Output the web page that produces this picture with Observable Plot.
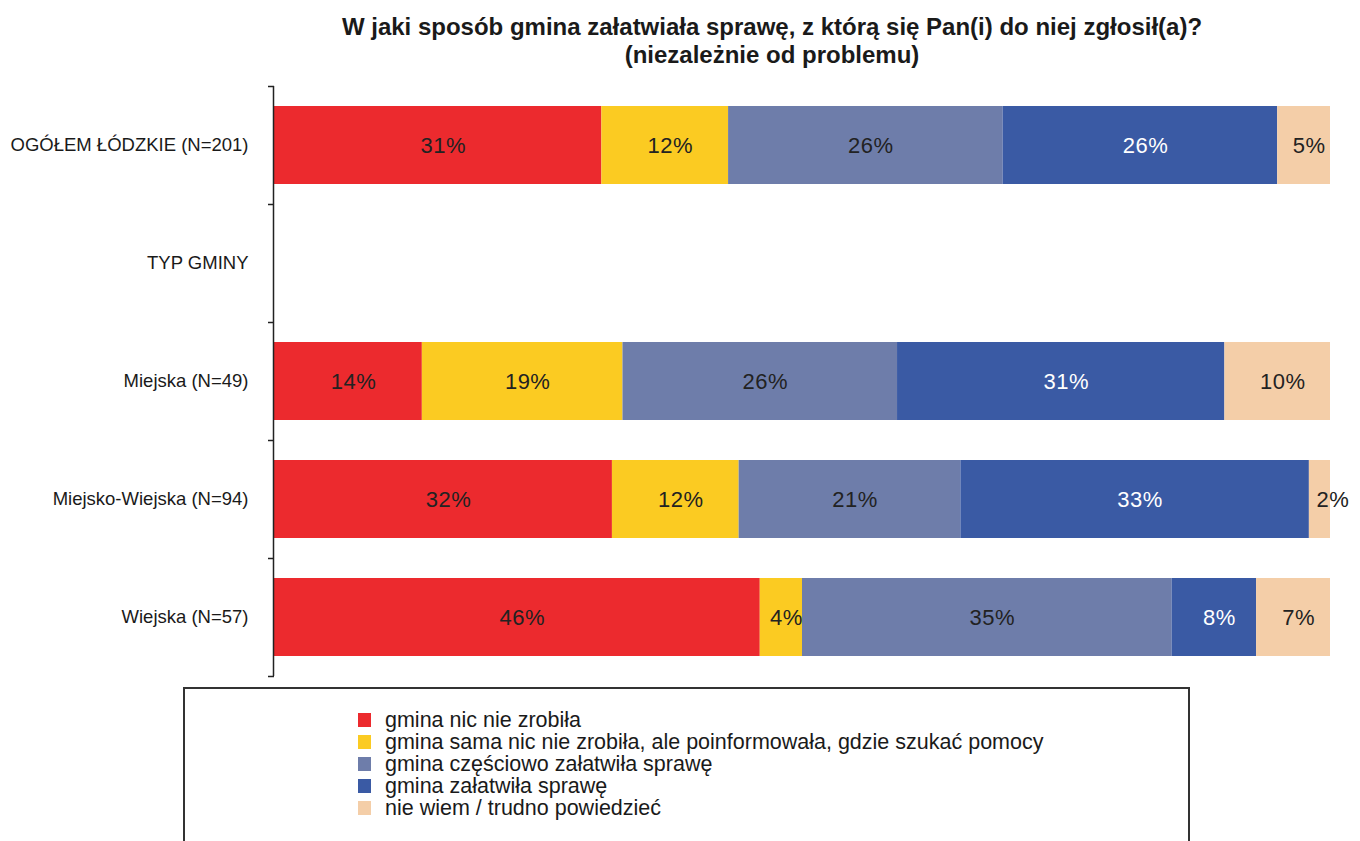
<!DOCTYPE html>
<html><head><meta charset="utf-8">
<script src="https://cdn.jsdelivr.net/npm/d3@7"></script>
<script src="https://cdn.jsdelivr.net/npm/@observablehq/plot@0.6"></script>
<style>
body{margin:0;background:#fff;font-family:"Liberation Sans",Arial,sans-serif;}
#wrap{position:relative;width:1360px;height:841px;overflow:hidden;}
#title{position:absolute;left:772px;top:13px;transform:translateX(-50%);font-weight:bold;font-size:24px;line-height:28px;text-align:center;white-space:nowrap;color:#1a1a1a;}
#chart{position:absolute;left:0;top:68px;}
#chart svg g[aria-label="text"] text{letter-spacing:0.5px;}
#legend{position:absolute;left:183px;top:687px;width:1007px;height:200px;border:2px solid #333;box-sizing:border-box;}
#legend .items{position:absolute;left:173px;top:20px;}
#legend .item{height:22px;display:flex;align-items:center;font-size:21.5px;color:#1a1a1a;white-space:nowrap;}
#legend .sw{width:13px;height:14px;margin-right:14px;flex:none;}
</style>
</head><body>
<div id="wrap">
  <div id="title">W jaki sposób gmina załatwiała sprawę, z którą się Pan(i) do niej zgłosił(a)?<br>(niezależnie od problemu)</div>
  <div id="chart"></div>
  <div id="legend"><div class="items"></div></div>
</div>
<script>
const groups = ["OGÓŁEM ŁÓDZKIE (N=201)", "TYP GMINY", "Miejska (N=49)", "Miejsko-Wiejska (N=94)", "Wiejska (N=57)"];
const answers = ["gmina nic nie zrobiła", "gmina sama nic nie zrobiła, ale poinformowała, gdzie szukać pomocy", "gmina częściowo załatwiła sprawę", "gmina załatwiła sprawę", "nie wiem / trudno powiedzieć"];
const colors = ["#ec2a2e", "#fbcb22", "#6e7daa", "#3a5aa4", "#f4cea8"];
const ogolem = [31, 12, 26, 26, 5];
const miejska = [14, 19, 26, 31, 10];
const miejskoWiejska = [32, 12, 21, 33, 2];
const wiejska = [46, 4, 35, 8, 7];

const rows = [
  [groups[0], ogolem],
  [groups[2], miejska],
  [groups[3], miejskoWiejska],
  [groups[4], wiejska]
];
const data = [];
for (const [g, vals] of rows) vals.forEach((v, i) => data.push({group: g, answer: answers[i], value: v}));

const W = 1360, H = 613, mT = 18, mB = 5, mL = 274, mR = 30;
const step = (H - mT - mB) / groups.length;
const isDark = d => d.answer === answers[3];
const lblLight = d => !isDark(d) && d.value >= 3 ? d.value + "%" : null;
const lblSmall = d => !isDark(d) && d.value < 3 ? d.value + "%" : null;
const lblDark = d => isDark(d) ? d.value + "%" : null;
const textOpts = {fontSize: 22};

const plot = Plot.plot({
  width: W, height: H,
  marginTop: mT, marginBottom: mB, marginLeft: mL, marginRight: mR,
  style: {fontFamily: '"Liberation Sans", Arial, sans-serif', background: "white"},
  x: {domain: [0, 100], axis: null},
  y: {domain: groups, paddingInner: 0.34, paddingOuter: 0.17, axis: null},
  color: {domain: answers, range: colors},
  marks: [
    Plot.barX(data, Plot.stackX({x: "value", y: "group", z: "answer", fill: "answer"})),
    Plot.axisY({tickSize: 0, tickPadding: 26, fontSize: 18.5, label: null, fill: "#1a1a1a"}),
    Plot.axisY({tickSize: 6, tickFormat: () => "", label: null, dy: step / 2, stroke: "#222", strokeWidth: 1.5}),
    Plot.axisY([groups[0]], {tickSize: 6, tickFormat: () => "", label: null, dy: -step / 2, stroke: "#222", strokeWidth: 1.5}),
    Plot.ruleX([0], {dx: -1, stroke: "#222", strokeWidth: 1.5}),
    Plot.text(data, {...Plot.stackX({x: "value", y: "group", z: "answer", text: lblLight}), ...textOpts, fill: "#222", dx: 5}),
    Plot.text(data, {...Plot.stackX({x: "value", y: "group", z: "answer", text: lblSmall}), ...textOpts, fill: "#222", dx: 13}),
    Plot.text(data, {...Plot.stackX({x: "value", y: "group", z: "answer", text: lblDark}), ...textOpts, fill: "white", dx: 5})
  ]
});
document.getElementById("chart").appendChild(plot);

const items = document.querySelector("#legend .items");
answers.forEach((a, i) => {
  const div = document.createElement("div");
  div.className = "item";
  const sw = document.createElement("span");
  sw.className = "sw";
  sw.style.background = colors[i];
  div.appendChild(sw);
  div.appendChild(document.createTextNode(a));
  items.appendChild(div);
});
</script>
</body></html>
